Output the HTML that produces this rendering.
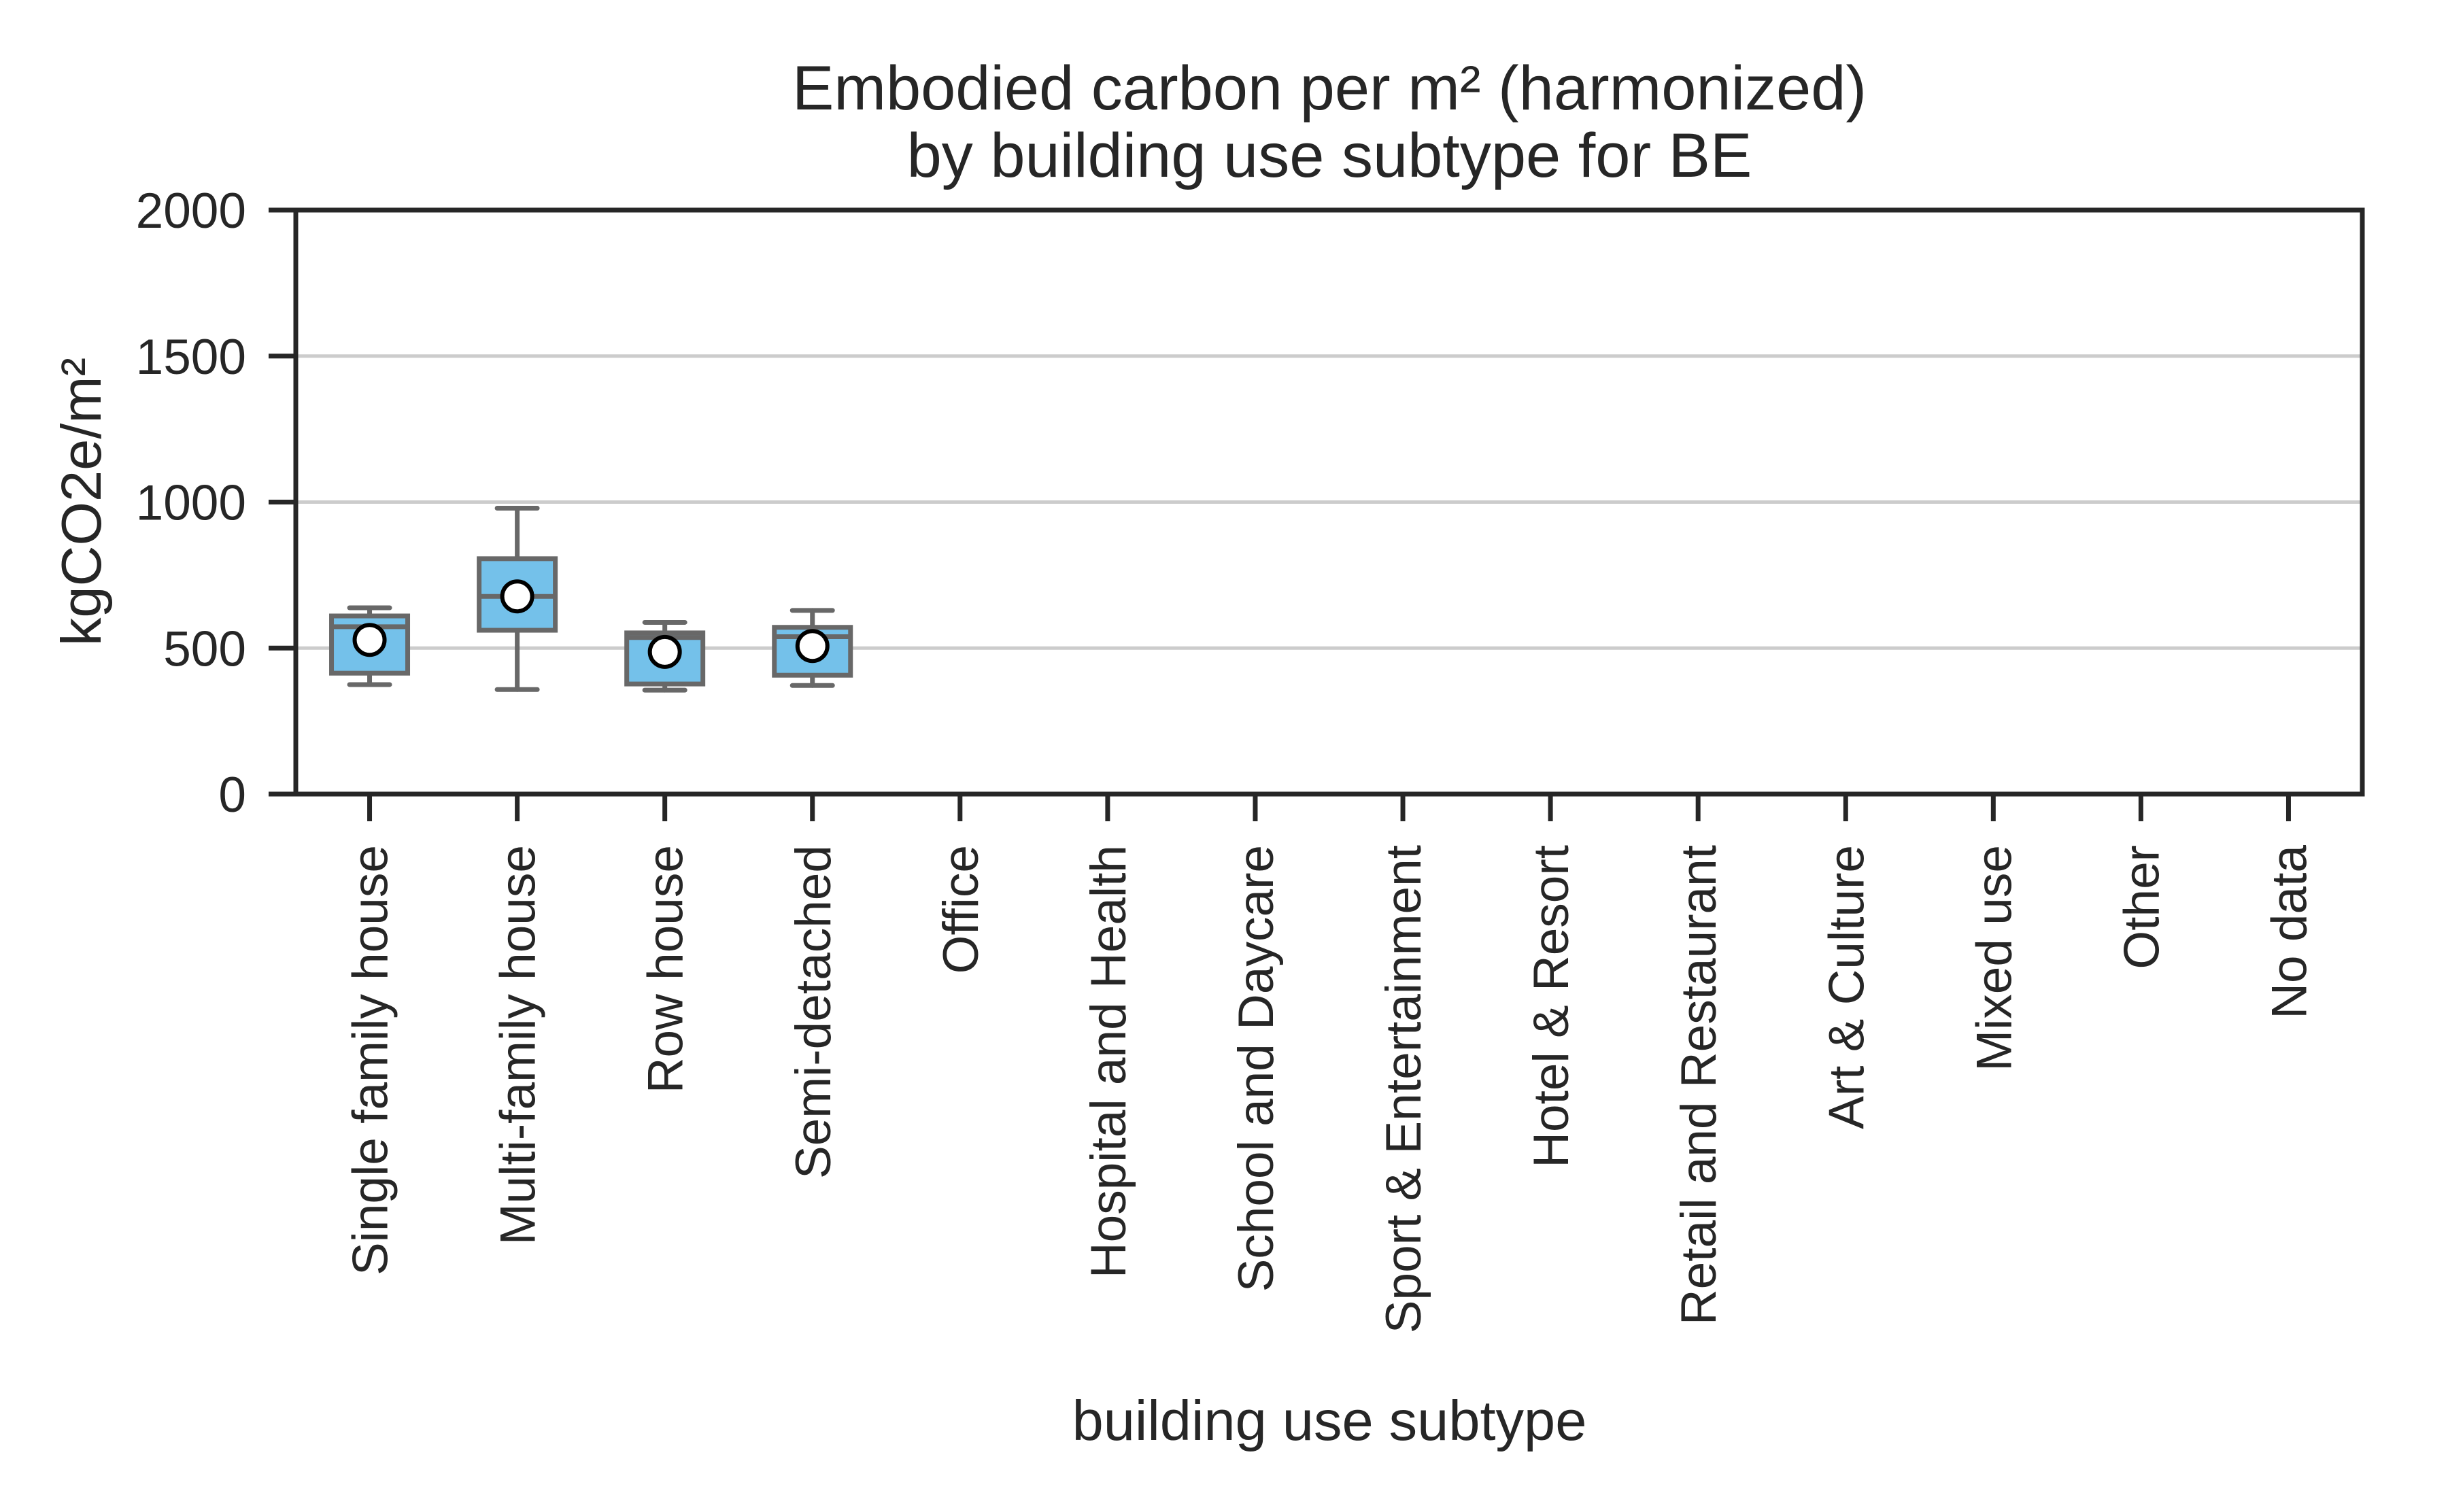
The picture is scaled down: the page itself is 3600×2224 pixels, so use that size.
<!DOCTYPE html>
<html><head><meta charset="utf-8"><style>
html,body{margin:0;padding:0;background:#fff}
svg{display:block}
text{font-family:"Liberation Sans",Arial,sans-serif;fill:#262626}
</style></head><body>
<svg id="chart" width="3600" height="2224" viewBox="0 0 3600 2224" xmlns="http://www.w3.org/2000/svg">
<rect x="0" y="0" width="3600" height="2224" fill="#fff"/>
<g id="grid"></g>
<g id="boxes"></g>
<g id="axes"></g>
<text x="1955" y="161" font-size="92" text-anchor="middle">Embodied carbon per m² (harmonized)</text>
<text x="1955" y="260" font-size="92" text-anchor="middle">by building use subtype for BE</text>
<text x="1955" y="2118" font-size="83" text-anchor="middle">building use subtype</text>
<text x="0" y="0" font-size="83" text-anchor="middle" transform="translate(148,738) rotate(-90)">kgCO2e/m²</text>
</svg>
<script>
const categories = ["Single family house","Multi-family house","Row house","Semi-detached","Office","Hospital and Health","School and Daycare","Sport & Entertainment","Hotel & Resort","Retail and Restaurant","Art & Culture","Mixed use","Other","No data"];
const whiskerLow = [375, 358, 356, 372];
const q1 = [414, 561, 377, 407];
const medians = [573, 677, 536, 539];
const q3 = [610, 806, 552, 571];
const whiskerHigh = [638, 979, 588, 629];
const means = [528, 677, 487, 507];
const yTicks = [0, 500, 1000, 1500, 2000];
const gridValues = [500, 1000, 1500];

const NS = "http://www.w3.org/2000/svg";
const L = 435, R = 3474, T = 309, B = 1168;
const yMin = 0, yMax = 2000;
const band = (R - L) / categories.length;
const xScale = i => L + band * (i + 0.5);
const yScale = v => B - (v - yMin) / (yMax - yMin) * (B - T);
function mk(tag, attrs, parent) {
  const e = document.createElementNS(NS, tag);
  for (const k in attrs) e.setAttribute(k, attrs[k]);
  parent.appendChild(e);
  return e;
}
const grid = document.getElementById('grid');
const boxes = document.getElementById('boxes');
const axes = document.getElementById('axes');

gridValues.forEach(v => {
  const g = mk('line', {x1: L, x2: R, y1: yScale(v), y2: yScale(v), stroke: '#cccccc', 'stroke-width': 5}, grid);
  
  
});

const boxW = 112, capW = 59;
for (let i = 0; i < q1.length; i++) {
  const cx = xScale(i);
  const g = mk('g', {}, boxes);
  
  
  const st = {stroke: '#686868', 'stroke-width': 7, 'stroke-linecap': 'round'};
  mk('line', Object.assign({x1: cx, x2: cx, y1: yScale(q3[i]), y2: yScale(whiskerHigh[i])}, st), g);
  mk('line', Object.assign({x1: cx, x2: cx, y1: yScale(q1[i]), y2: yScale(whiskerLow[i])}, st), g);
  mk('line', Object.assign({x1: cx - capW/2, x2: cx + capW/2, y1: yScale(whiskerHigh[i]), y2: yScale(whiskerHigh[i])}, st), g);
  mk('line', Object.assign({x1: cx - capW/2, x2: cx + capW/2, y1: yScale(whiskerLow[i]), y2: yScale(whiskerLow[i])}, st), g);
  mk('rect', {x: cx - boxW/2, y: yScale(q3[i]), width: boxW, height: yScale(q1[i]) - yScale(q3[i]), fill: '#74c1ea', stroke: '#686868', 'stroke-width': 7}, g);
  mk('line', {x1: cx - boxW/2, x2: cx + boxW/2, y1: yScale(medians[i]), y2: yScale(medians[i]), stroke: '#686868', 'stroke-width': 7}, g);
  const m = mk('circle', {cx: cx, cy: yScale(means[i]), r: 22, fill: '#fff', stroke: '#000', 'stroke-width': 6}, g);
  
  
}

const frame = mk('rect', {x: L, y: T, width: R - L, height: B - T, fill: 'none', stroke: '#262626', 'stroke-width': 7}, axes);



yTicks.forEach(v => {
  const y = yScale(v);
  const t = mk('line', {x1: L - 40, x2: L, y1: y, y2: y, stroke: '#262626', 'stroke-width': 7}, axes);
  
  
  const lb = mk('text', {x: 362, y: y + 26, 'font-size': 73, 'text-anchor': 'end'}, axes);
  lb.textContent = v;
  
  
});

categories.forEach((c, i) => {
  const x = xScale(i);
  const t = mk('line', {x1: x, x2: x, y1: B, y2: B + 40, stroke: '#262626', 'stroke-width': 7}, axes);
  
  
  const lb = mk('text', {x: 0, y: 0, 'font-size': 73, 'text-anchor': 'end', transform: 'translate(' + (x + 26) + ',1243) rotate(-90)'}, axes);
  lb.textContent = c;
  
  
});
</script>
</body></html>
